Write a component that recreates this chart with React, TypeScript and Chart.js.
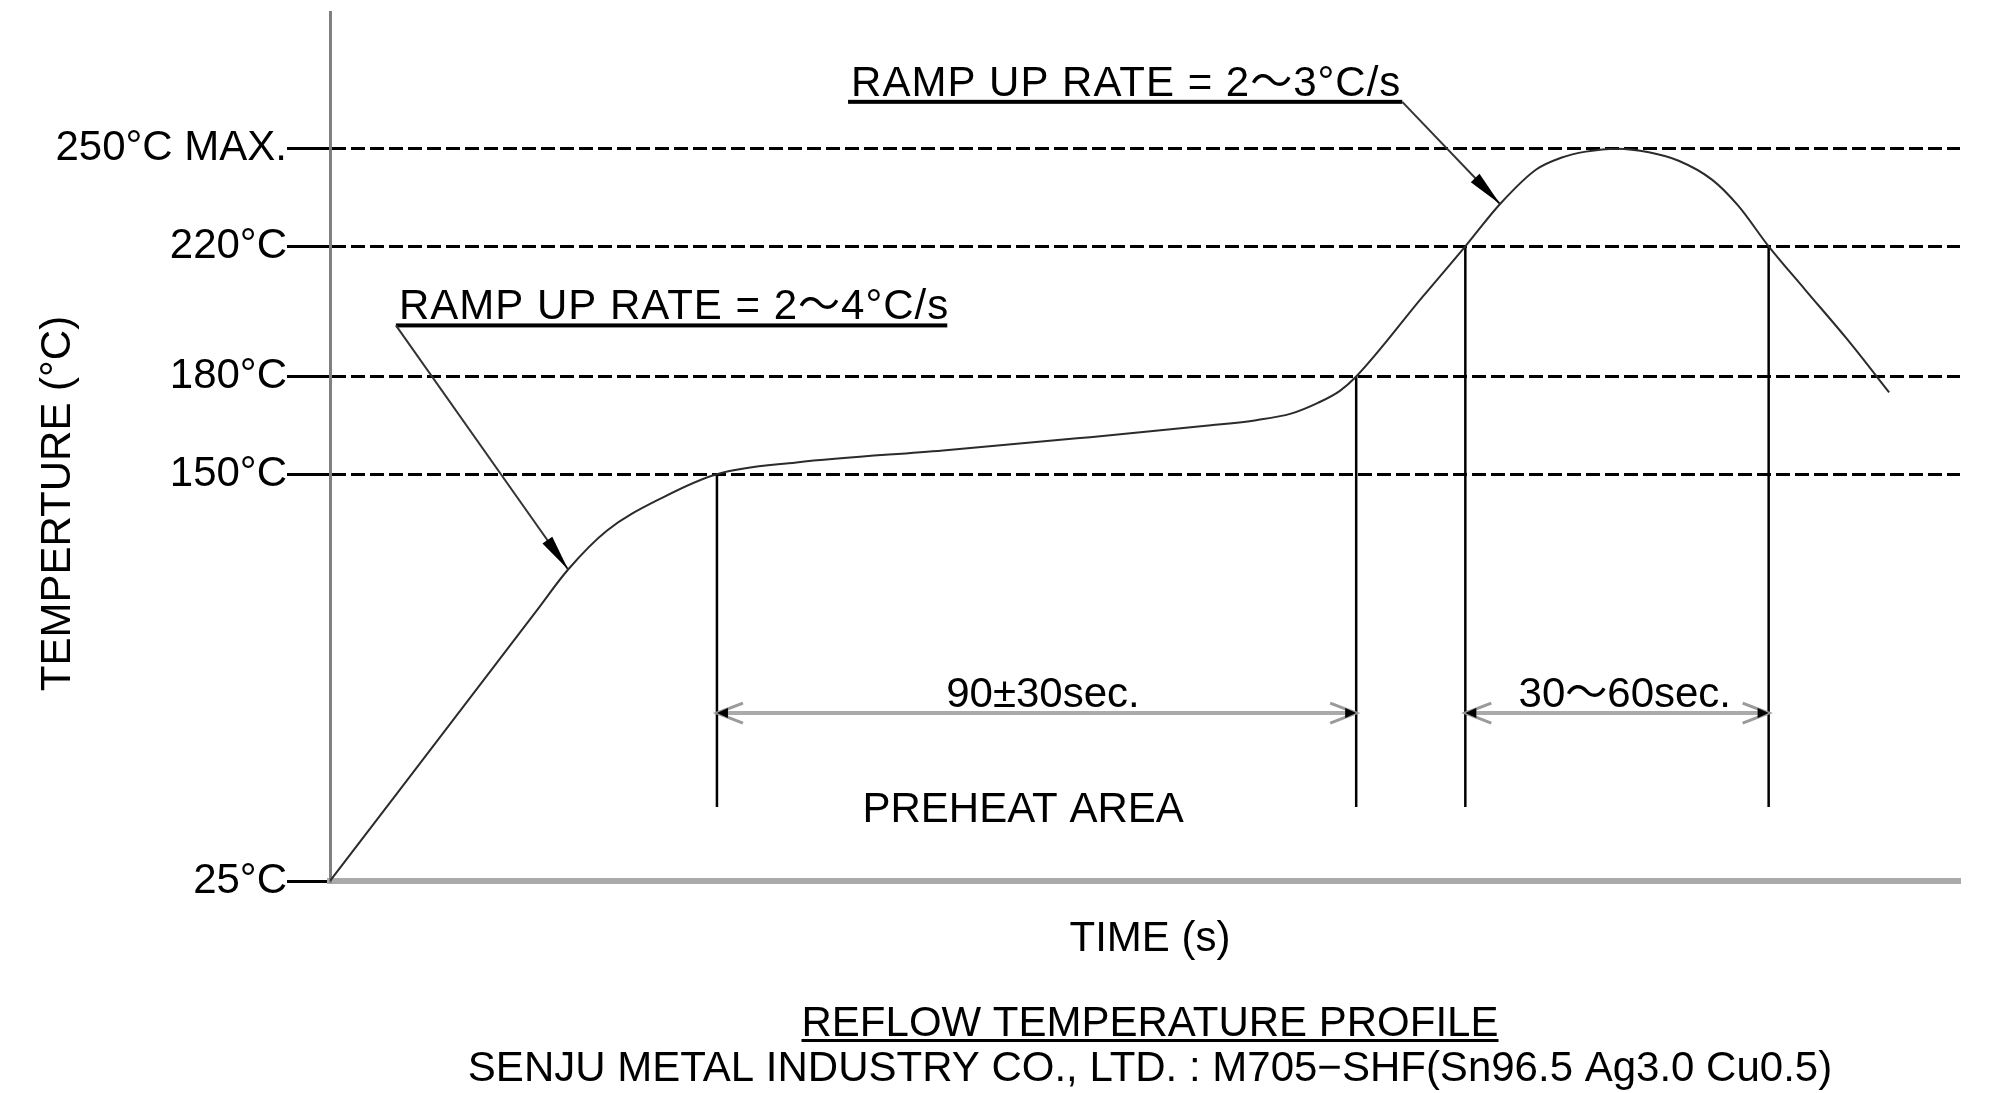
import React, { useEffect, useRef } from "react";
import { Chart, registerables } from "chart.js";

Chart.register(...registerables);

// Reflow profile: time (s) and temperature (°C)
const timeSec = [0, 29.0, 33.6, 39.1, 47.0, 54.6, 65.8, 86.5, 105.4, 124.3, 130.7, 135.6, 139.4, 142.5, 144.8, 154.1, 160.2, 165.1, 170.2, 173.7, 177.2, 181.6, 186.1, 190.3, 195.0, 198.7, 203.0, 208.1, 214.1, 217.9, 220.0];
const tempC = [25, 107.6, 120.7, 132.7, 142.9, 150, 153.6, 157.3, 161.0, 165.0, 166.6, 168.6, 171.9, 175.6, 180, 204.3, 220, 233.0, 243.6, 247.2, 249.1, 250, 248.9, 246.3, 240.5, 232.5, 220, 206.8, 191.4, 181, 175.1];

// Y-axis reference temperatures
const tempTicks = [25, 150, 180, 220, 250];
const tempTickLabels = ["25°C", "150°C", "180°C", "220°C", "250°C MAX."];

// Vertical marker lines where the profile crosses the reference temperatures
const markerTimes = [54.6, 144.8, 160.2, 203.0];
const markerTemps = [150, 180, 220, 220];
const markerFloorTemp = 47.7;

// Duration spans (double arrows)
const spanStart = [54.6, 160.2];
const spanEnd = [144.8, 203.0];
const spanTemp = [76.6, 76.6];
const spanLabels = ["90±30sec.", "30～60sec."];
const spanLabelTimes = [100.6, 182.7];

// Ramp-rate annotations
const rampLabels = ["RAMP UP RATE = 2～4°C/s", "RAMP UP RATE = 2～3°C/s"];
const rampLineStart = [9.3, 73.1];
const rampLineEnd = [87.1, 151.3];
const rampLineTemp = [195.7, 264.4];
const rampLeaderTime = [9.3, 151.3];
const rampTipTime = [33.6, 165.1];
const rampTipTemp = [120.7, 233.0];

// Other texts
const areaLabel = "PREHEAT AREA";
const areaLabelTime = 97.8;
const areaLabelTemp = 46.8;
const xTitle = "TIME (s)";
const yTitle = "TEMPERTURE (°C)";
const chartTitle = "REFLOW TEMPERATURE PROFILE";
const chartSubtitle = "SENJU METAL INDUSTRY CO., LTD. : M705−SHF(Sn96.5 Ag3.0 Cu0.5)";

const FONT_FAMILY = '"Liberation Sans", Arial, "Noto Sans CJK JP", sans-serif';
const FONT = `42px ${FONT_FAMILY}`;

function filledHead(ctx: CanvasRenderingContext2D, sx: number, sy: number, tx: number, ty: number) {
  const a = Math.atan2(ty - sy, tx - sx);
  const L = 36, W = 6;
  const bx = tx - L * Math.cos(a), by = ty - L * Math.sin(a);
  ctx.beginPath();
  ctx.moveTo(tx, ty);
  ctx.lineTo(bx - W * Math.sin(a), by + W * Math.cos(a));
  ctx.lineTo(bx + W * Math.sin(a), by - W * Math.cos(a));
  ctx.closePath();
  ctx.fillStyle = "#000";
  ctx.fill();
}

function openHead(ctx: CanvasRenderingContext2D, tx: number, ty: number, dir: number) {
  ctx.beginPath();
  ctx.moveTo(tx + dir * 26, ty - 10);
  ctx.lineTo(tx, ty);
  ctx.lineTo(tx + dir * 26, ty + 10);
  ctx.strokeStyle = "#9a9a9a";
  ctx.lineWidth = 3;
  ctx.stroke();
  ctx.beginPath();
  ctx.moveTo(tx, ty);
  ctx.lineTo(tx + dir * 11, ty - 5);
  ctx.lineTo(tx + dir * 11, ty + 5);
  ctx.closePath();
  ctx.fillStyle = "#000";
  ctx.fill();
}

const annotationPlugin = {
  id: "reflowAnnotations",
  afterDraw(chart: any) {
    const { ctx, chartArea } = chart;
    const xs = chart.scales.x;
    const ys = chart.scales.y;
    const px = (t: number) => xs.getPixelForValue(t);
    const py = (v: number) => ys.getPixelForValue(v);
    ctx.save();

    // double-arrow heads
    spanStart.forEach((s, i) => {
      const yy = py(spanTemp[i]);
      openHead(ctx, px(s), yy, 1);
      openHead(ctx, px(spanEnd[i]), yy, -1);
    });

    ctx.font = FONT;
    ctx.fillStyle = "#000";
    ctx.textBaseline = "alphabetic";

    // span labels
    ctx.textAlign = "center";
    spanLabels.forEach((lab, i) => {
      ctx.fillText(lab, px(spanLabelTimes[i]), py(spanTemp[i]) - 6);
    });

    // ramp annotations
    rampLabels.forEach((lab, i) => {
      const uy = py(rampLineTemp[i]);
      const x0 = px(rampLineStart[i]);
      const x1 = px(rampLineEnd[i]);
      ctx.fillStyle = "#000";
      ctx.fillRect(x0, uy - 2, x1 - x0, 4);
      ctx.textAlign = "left";
      (ctx as any).letterSpacing = "1px";
      ctx.fillText(lab, x0 + 3, uy - 6);
      (ctx as any).letterSpacing = "0px";
      const lx = px(rampLeaderTime[i]);
      const tx = px(rampTipTime[i]);
      const ty = py(rampTipTemp[i]);
      ctx.beginPath();
      ctx.moveTo(lx, uy);
      ctx.lineTo(tx, ty);
      ctx.strokeStyle = "#333";
      ctx.lineWidth = 2;
      ctx.stroke();
      filledHead(ctx, lx, uy, tx, ty);
    });

    // preheat area
    ctx.fillStyle = "#000";
    ctx.textAlign = "center";
    ctx.textBaseline = "middle";
    ctx.fillText(areaLabel, px(areaLabelTime), py(areaLabelTemp));

    // x title and captions
    const cx = (chartArea.left + chartArea.right) / 2 + 5;
    ctx.fillText(xTitle, cx, chartArea.bottom + 58);
    ctx.textBaseline = "alphabetic";
    ctx.fillText(chartTitle, cx, chartArea.bottom + 155);
    const w = ctx.measureText(chartTitle).width;
    ctx.fillRect(cx - w / 2, chartArea.bottom + 158, w, 3);
    ctx.fillText(chartSubtitle, cx, chartArea.bottom + 200);

    // y title
    ctx.save();
    ctx.translate(chartArea.left - 272, (chartArea.top + chartArea.bottom) / 2 + 57);
    ctx.rotate(-Math.PI / 2);
    ctx.textBaseline = "middle";
    ctx.fillText(yTitle, 0, 0);
    ctx.restore();

    ctx.restore();
  },
};

export default function App() {
  const ref = useRef<HTMLCanvasElement | null>(null);

  useEffect(() => {
    if (!ref.current) return;
    const datasets: any[] = [
      {
        data: timeSec.map((t, i) => ({ x: t, y: tempC[i] })),
        borderColor: "#2b2b2b",
        borderWidth: 2,
        pointRadius: 0,
        cubicInterpolationMode: "monotone",
        fill: false,
      },
      ...markerTimes.map((t, i) => ({
        data: [
          { x: t, y: markerTemps[i] },
          { x: t, y: markerFloorTemp },
        ],
        borderColor: "#000",
        borderWidth: 2.5,
        pointRadius: 0,
        fill: false,
      })),
      ...spanStart.map((s, i) => ({
        data: [
          { x: s, y: spanTemp[i] },
          { x: spanEnd[i], y: spanTemp[i] },
        ],
        borderColor: "#aaaaaa",
        borderWidth: 4,
        pointRadius: 0,
        fill: false,
      })),
    ];

    const chart = new Chart(ref.current, {
      type: "line",
      data: { datasets },
      options: {
        animation: false,
        responsive: false,
        devicePixelRatio: 1,
        events: [],
        layout: { padding: { top: 12, right: 30, left: 0, bottom: 0 } },
        plugins: { legend: { display: false }, tooltip: { enabled: false }, title: { display: false } },
        scales: {
          x: {
            type: "linear",
            min: 0,
            max: 230,
            afterFit: (s: any) => {
              s.height = 212;
              s.paddingLeft = 0;
              s.paddingRight = 0;
            },
            ticks: { display: false },
            grid: { display: false, drawTicks: false },
            border: { display: true, color: "#aaaaaa", width: 6 },
          },
          y: {
            type: "linear",
            min: 25,
            max: 292,
            afterFit: (s: any) => {
              s.width = 330;
              s.paddingTop = 0;
              s.paddingBottom = 0;
            },
            afterBuildTicks: (s: any) => {
              s.ticks = tempTicks.map((v) => ({ value: v }));
            },
            ticks: {
              autoSkip: false,
              padding: 0,
              color: "#000",
              font: { family: FONT_FAMILY, size: 42 },
              callback: (_v: any, idx: number) => tempTickLabels[idx],
            },
            grid: {
              color: (c: any) => (c.tick && c.tick.value === 25 ? "rgba(0,0,0,0)" : "#000"),
              lineWidth: 3,
              tickLength: 43,
              tickColor: "#000",
              tickWidth: 3,
              drawTicks: true,
            },
            border: { display: true, color: "#808080", width: 3, dash: [14, 5] },
          },
        },
      } as any,
      plugins: [annotationPlugin],
    });
    return () => chart.destroy();
  }, []);

  return (
    <div style={{ position: "fixed", left: 0, top: 0, width: 1990, height: 1093, background: "#fff" }}>
      <canvas ref={ref} width={1990} height={1093} style={{ width: 1990, height: 1093, display: "block" }} />
    </div>
  );
}
